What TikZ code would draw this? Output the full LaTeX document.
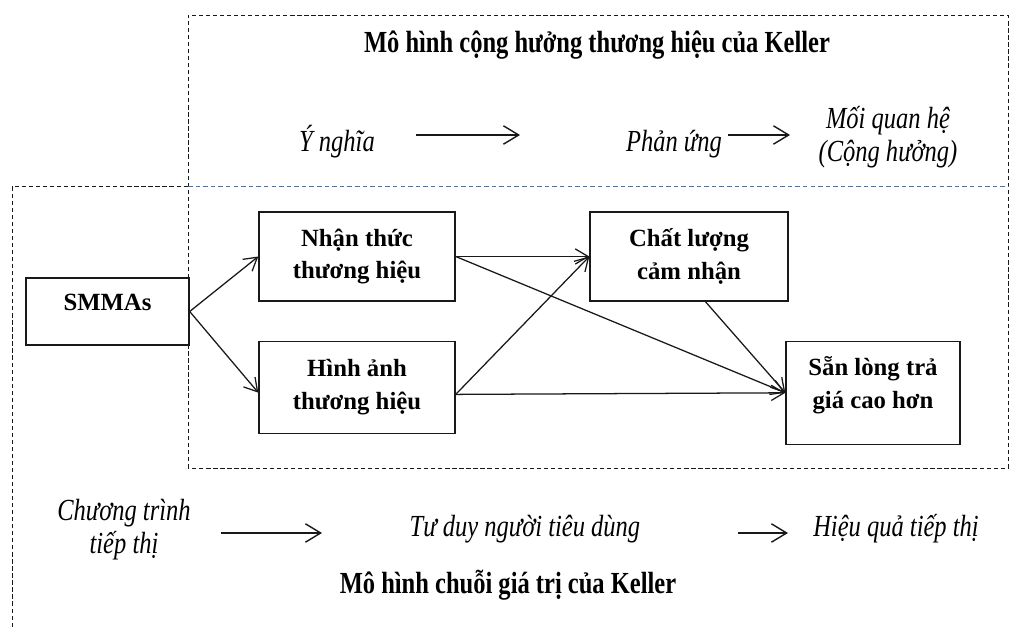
\documentclass[tikz,border=0pt]{standalone}
\usepackage{fontspec}
\setmainfont{Liberation Serif}
\newfontfamily\narrowserif[FakeStretch=0.8]{Liberation Serif}
\usepackage{tikz}
\usetikzlibrary{arrows.meta, positioning, calc}
\definecolor{mydark}{RGB}{25,25,25}
\definecolor{myblue}{RGB}{68,114,196}
\newcommand{\kfont}{\fontsize{17.6pt}{23.4pt}\selectfont}
\newcommand{\nfont}{\narrowserif\fontsize{21.8pt}{23.4pt}\selectfont}
\tikzset{
  box/.style={rectangle, draw=mydark, line width=1pt, align=center,
    font=\bfseries\kfont, inner sep=2pt},
  lbl/.style={align=center, font=\nfont\itshape, inner sep=1pt},
  ttl/.style={font=\nfont\bfseries, inner sep=1pt},
  arrow/.style={-{Straight Barb[length=0.32cm, width=0.38cm]}, line width=0.9pt, color=mydark},
  bigarrow/.style={-{Straight Barb[length=0.38cm, width=0.46cm]}, line width=1pt, color=mydark},
  dashframe/.style={dash pattern=on 3pt off 2pt, line width=0.7pt, color=mydark},
  blueframe/.style={dash pattern=on 3.2pt off 2.2pt, line width=0.8pt, color=myblue}
}

\begin{document}
\begin{tikzpicture}
  \useasboundingbox (0,0) rectangle (25.275,15.75);

  % Draw the dashed frames
  \draw[dashframe] (4.7,4.05) rectangle (25.2,15.375);
  \draw[dashframe] (0.3,0.08) -- (0.3,11.08) -- (4.7,11.08);
  \draw[blueframe] (4.7,11.08) -- (25.2,11.08);

  % Brand resonance row
  \node[ttl, anchor=base] (kr) at (14.925,14.425) {Mô hình cộng hưởng thương hiệu của Keller};
  \node[lbl, anchor=base] (yn) at (8.425,11.95) {Ý nghĩa};
  \node[lbl, anchor=base] (pu) at (16.85,11.95) {Phản ứng};
  \node[lbl] (mq) at (22.2,12.33) {Mối quan hệ\\(Cộng hưởng)};
  \coordinate (r1a) at (10.4,12.375);
  \coordinate (r1b) at (13.0,12.375);
  \coordinate (r2a) at (18.2,12.375);
  \coordinate (r2b) at (19.75,12.375);
  \draw[bigarrow] (r1a) -- (r1b);
  \draw[bigarrow] (r2a) -- (r2b);

  % Research model boxes
  \node[box, minimum width=4.075cm, minimum height=1.675cm, text depth=0.45cm] (sm) at (2.6875,7.9625) {SMMAs};
  \node[box, minimum width=4.9cm, minimum height=2.225cm] (nt) at (8.925,9.3375) {Nhận thức\\thương hiệu};
  \node[box, minimum width=4.9cm, minimum height=2.29cm] (ha) at (8.925,6.0625) {Hình ảnh\\thương hiệu};
  \node[box, minimum width=4.95cm, minimum height=2.225cm] (cl) at (17.225,9.3375) {Chất lượng\\cảm nhận};
  \node[box, minimum width=4.35cm, minimum height=2.575cm, text depth=0.52cm] (sl) at (21.825,5.93) {Sẵn lòng trả\\giá cao hơn};

  % Paths between boxes
  \draw[arrow] (sm.east) -- (nt.west);
  \draw[arrow] (sm.east) -- (ha.183);
  \draw[arrow] (nt.east) -- (cl.west);
  \draw[arrow] (nt.east) -- (sl.west);
  \draw[arrow] (ha.-4) -- (cl.west);
  \draw[arrow] (ha.-4) -- (sl.west);
  \draw[arrow] (cl.290) -- (sl.west);

  % Brand value chain row
  \node[lbl] (ct) at (3.1,2.5) {Chương trình\\tiếp thị};
  \node[lbl, anchor=base] (td) at (13.125,2.33) {Tư duy người tiêu dùng};
  \node[lbl, anchor=base] (hq) at (22.4,2.33) {Hiệu quả tiếp thị};
  \node[ttl, anchor=base] (cg) at (12.7,0.925) {Mô hình chuỗi giá trị của Keller};
  \coordinate (b1a) at (5.525,2.425);
  \coordinate (b1b) at (8.05,2.425);
  \coordinate (b2a) at (18.45,2.425);
  \coordinate (b2b) at (19.7,2.425);
  \draw[bigarrow] (b1a) -- (b1b);
  \draw[bigarrow] (b2a) -- (b2b);
\end{tikzpicture}
\end{document}
